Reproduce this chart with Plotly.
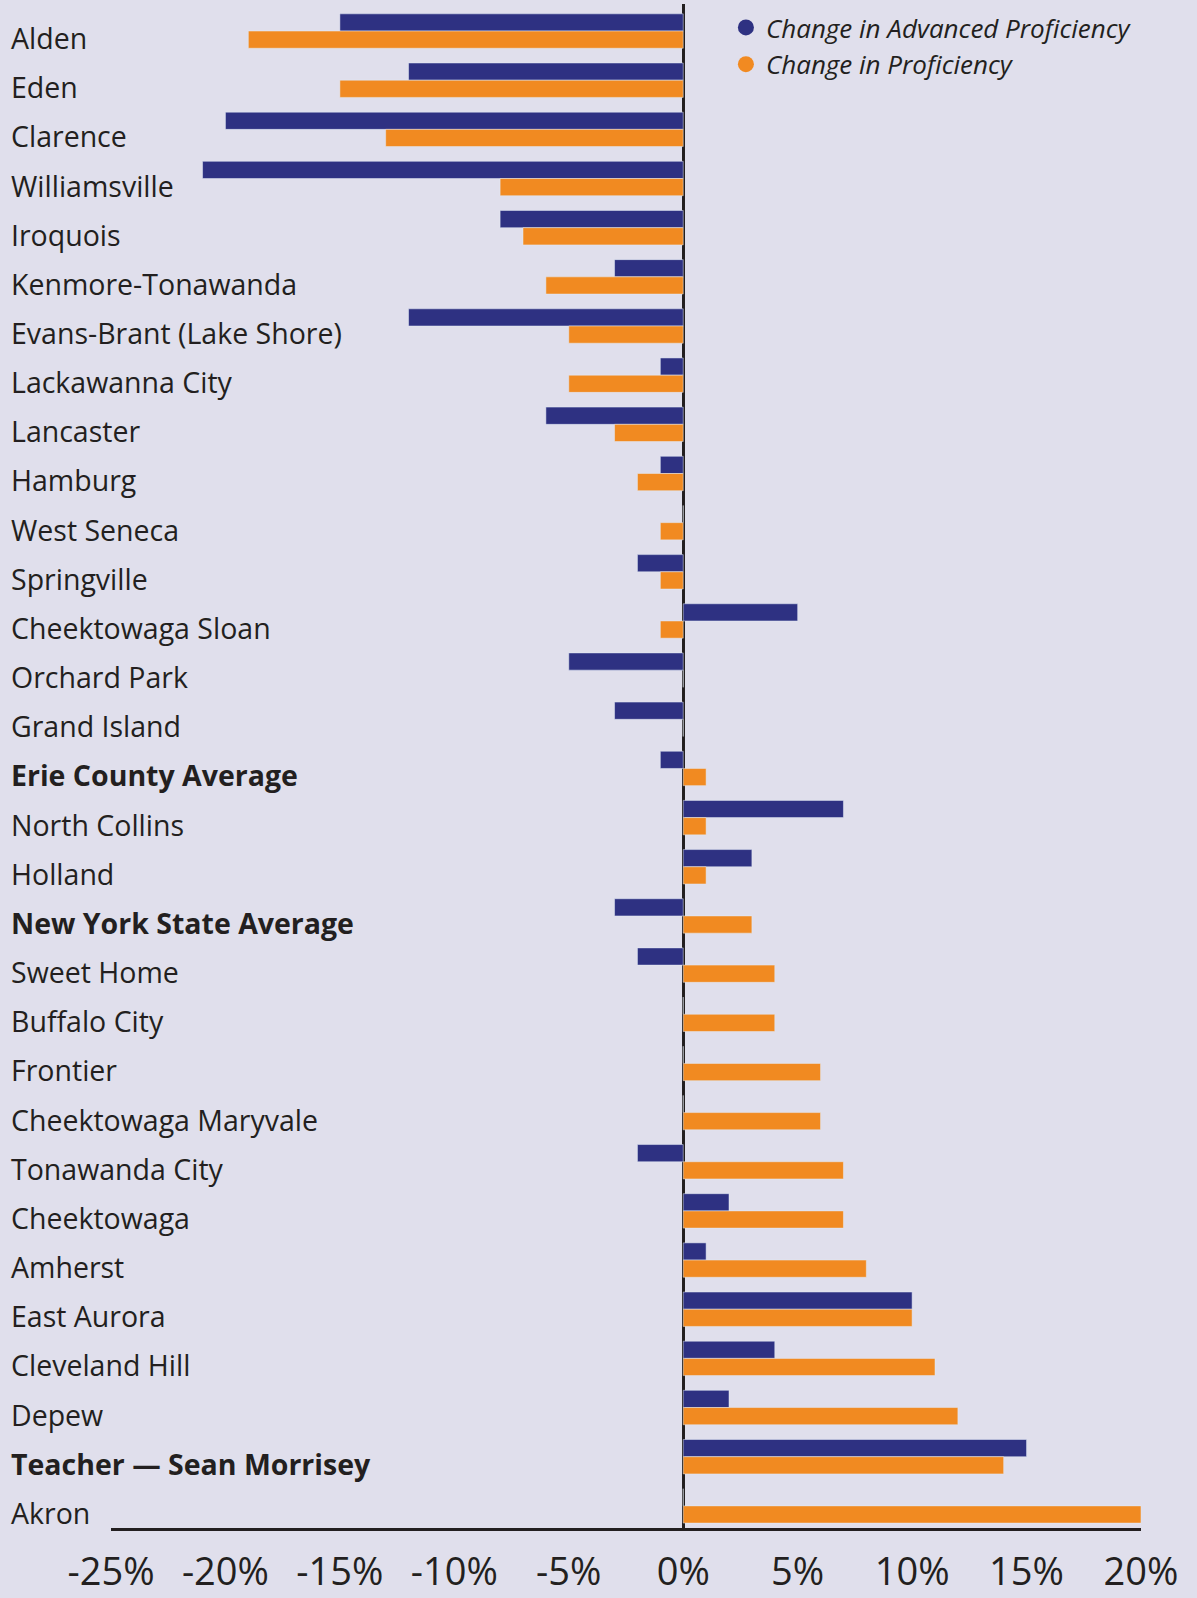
import plotly.graph_objects as go

categories = ["Alden", "Eden", "Clarence", "Williamsville", "Iroquois", "Kenmore-Tonawanda",
              "Evans-Brant (Lake Shore)", "Lackawanna City", "Lancaster", "Hamburg", "West Seneca",
              "Springville", "Cheektowaga Sloan", "Orchard Park", "Grand Island", "Erie County Average",
              "North Collins", "Holland", "New York State Average", "Sweet Home", "Buffalo City",
              "Frontier", "Cheektowaga Maryvale", "Tonawanda City", "Cheektowaga", "Amherst",
              "East Aurora", "Cleveland Hill", "Depew", "Teacher — Sean Morrisey", "Akron"]
bold_categories = ["Erie County Average", "New York State Average", "Teacher — Sean Morrisey"]

advanced_change = [-15, -12, -20, -21, -8, -3, -12, -1, -6, -1, 0, -2, 5, -5, -3, -1, 7, 3, -3, -2,
                   0, 0, 0, -2, 2, 1, 10, 4, 2, 15, 0]
proficiency_change = [-19, -15, -13, -8, -7, -6, -5, -5, -3, -2, -1, -1, -1, 0, 0, 1, 1, 1, 3, 4,
                      4, 6, 6, 7, 7, 8, 10, 11, 12, 14, 20]

tick_values = [-25, -20, -15, -10, -5, 0, 5, 10, 15, 20]
tick_labels = ["-25%", "-20%", "-15%", "-10%", "-5%", "0%", "5%", "10%", "15%", "20%"]

series_names = ["Change in Advanced Proficiency", "Change in Proficiency"]
BLUE = "#2e3182"
ORANGE = "#f18a21"
BG = "#e0dfec"
INK = "#231f20"
FONT = "Open Sans"

fig = go.Figure()
fig.add_trace(go.Bar(y=categories, x=advanced_change, orientation="h", marker_color=BLUE,
                     showlegend=False, name=series_names[0]))
fig.add_trace(go.Bar(y=categories, x=proficiency_change, orientation="h", marker_color=ORANGE,
                     showlegend=False, name=series_names[1]))
# legend entries with round markers
for nm, col in zip(series_names, [BLUE, ORANGE]):
    fig.add_trace(go.Scatter(x=[None], y=[None], mode="markers", name="<i>" + nm + "</i>",
                             marker=dict(color=col, size=18, symbol="circle")))

for c in categories:
    txt = "<b>" + c + "</b>" if c in bold_categories else c
    fig.add_annotation(x=0, xref="paper", y=c, yref="y", text=txt, showarrow=False,
                       xanchor="left", yanchor="middle", xshift=-102, yshift=-7,
                       font=dict(family=FONT, size=28.5, color=INK))

n = len(categories)
fig.update_layout(
    width=1197, height=1598,
    margin=dict(l=111, r=56, t=4, b=70),
    paper_bgcolor=BG, plot_bgcolor=BG,
    barmode="group", bargap=0.3, bargroupgap=0,
    font=dict(family=FONT, color=INK),
    legend=dict(x=0.597, y=1.0, xanchor="left", yanchor="top",
                font=dict(family=FONT, size=26, color=INK), bgcolor="rgba(0,0,0,0)",
                itemsizing="trace", tracegroupgap=0),
    xaxis=dict(range=[-25, 20], tickvals=tick_values, ticktext=tick_labels,
               showgrid=False, zeroline=True, zerolinecolor=INK, zerolinewidth=3,
               showline=True, linecolor=INK, linewidth=3, automargin=False,
               ticks="outside", ticklen=8, tickcolor="rgba(0,0,0,0)",
               tickfont=dict(family=FONT, size=38, color=INK)),
    yaxis=dict(range=[n - 0.55, -0.55], showticklabels=False, showgrid=False,
               zeroline=False, showline=False, automargin=False),
)

fig.write_html("out.html", config={"displayModeBar": False},
               post_script="document.body.style.margin='0';document.body.style.overflow='hidden';")
